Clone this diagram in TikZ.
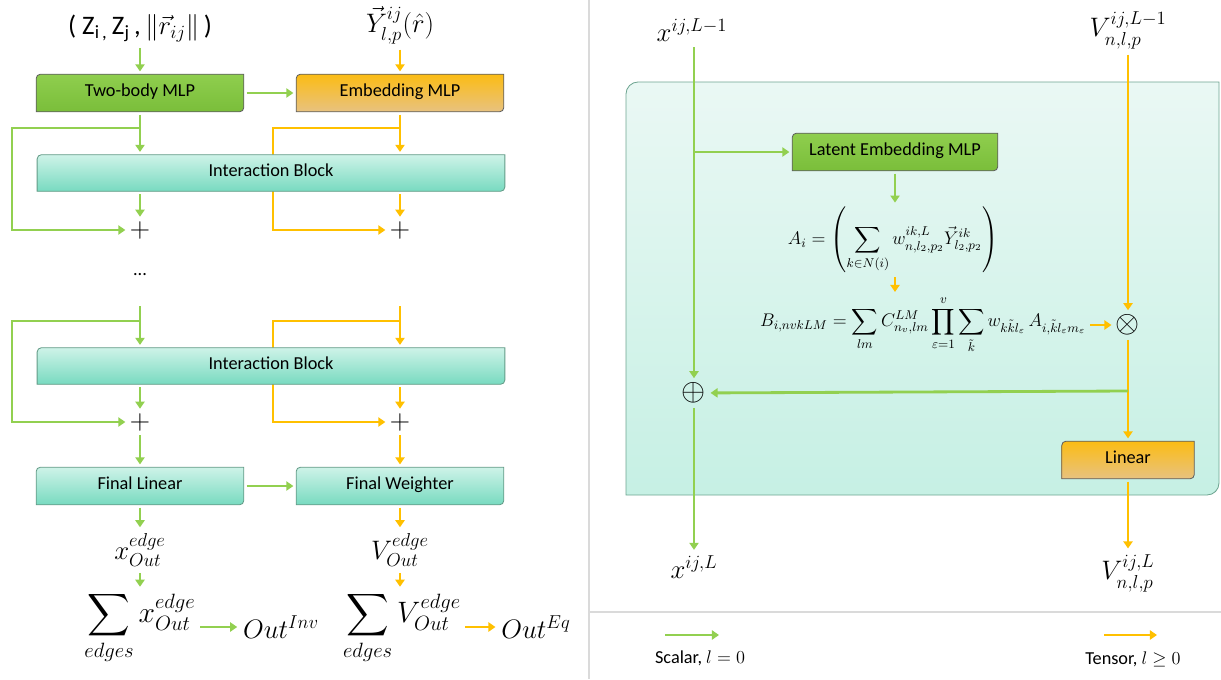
\documentclass[tikz,border=0pt]{standalone}
\usepackage{fix-cm}
\usepackage{fontspec}
\setsansfont{Carlito}
\usepackage{amsmath,amssymb}
\usepackage{tikz}
\usetikzlibrary{arrows.meta}
\usetikzlibrary{positioning}
\usetikzlibrary{calc}
\pgfdeclarelayer{back}
\pgfdeclarelayer{mid}
\pgfsetlayers{back,mid,main}
\definecolor{scalargreen}{RGB}{146,208,80}
\definecolor{tensororange}{RGB}{255,192,0}
\definecolor{mlptop}{RGB}{143,206,78}
\definecolor{mlpbot}{RGB}{122,190,58}
\definecolor{embtop}{RGB}{251,188,20}
\definecolor{embbot}{RGB}{232,194,128}
\definecolor{blocktop}{RGB}{206,243,232}
\definecolor{blockbot}{RGB}{120,218,192}
\definecolor{paneltop}{RGB}{234,248,244}
\definecolor{panelbot}{RGB}{198,240,228}
\definecolor{panelline}{RGB}{110,165,145}
\definecolor{boxline}{RGB}{95,95,95}
\definecolor{blockline}{RGB}{100,155,135}
\definecolor{divider}{RGB}{218,218,218}
\tikzstyle{box}=[inner sep=0pt,minimum height=0.925cm,text height=1.6ex,text depth=0.45ex,font=\sffamily\fontsize{13}{15}\selectfont]
\tikzstyle{bigmath}=[inner sep=2pt,font=\fontsize{19}{23}\selectfont]
\tikzstyle{summath}=[inner sep=1pt,font=\fontsize{21}{25}\selectfont]
\tikzstyle{eqn}=[inner sep=1pt,font=\fontsize{13}{16}\selectfont]
\tikzstyle{plus}=[inner sep=1pt,font=\fontsize{20}{22}\selectfont]
\tikzstyle{opsym}=[inner sep=1pt,font=\fontsize{22}{24}\selectfont]
\tikzstyle{legend}=[inner sep=1pt,font=\sffamily\fontsize{13}{15}\selectfont]
\tikzstyle{gline}=[draw=scalargreen,line width=2pt]
\tikzstyle{oline}=[draw=tensororange,line width=2pt]
\tikzstyle{garrow}=[gline,-{Triangle[length=5pt,width=6.5pt]},shorten >=2pt,shorten <=2pt]
\tikzstyle{oarrow}=[oline,-{Triangle[length=5pt,width=6.5pt]},shorten >=2pt,shorten <=2pt]
\tikzstyle{greenbox}=[top color=mlptop,bottom color=mlpbot,draw=boxline,line width=0.6pt]
\tikzstyle{orangebox}=[top color=embtop,bottom color=embbot,draw=boxline,line width=0.6pt]
\tikzstyle{tealbox}=[top color=blocktop,bottom color=blockbot,draw=blockline,line width=0.6pt]
% box outline with round top-left and bottom-right corners
\newcommand{\diagshape}[2]{\shade[#2] (#1.west) [rounded corners=3pt] -- (#1.north west) -- (#1.north) [sharp corners] -- (#1.north east) -- (#1.east) [rounded corners=3pt] -- (#1.south east) -- (#1.south) [sharp corners] -- (#1.south west) -- cycle;}

\begin{document}
\begin{tikzpicture}[x=0.025cm,y=-0.025cm]
\useasboundingbox (0,0) rectangle (1221,679);
\draw[divider,line width=1pt] (589,0) -- (589,679);
\draw[divider,line width=1pt] (589,612) -- (1221,612);

% left part
\node[bigmath] (inZ) at (140,28) {\sffamily ( Z\textsubscript{i\,,}\,Z\textsubscript{j}\,,\,$\|\vec{r}_{ij}\|$\,)};
\node[bigmath] (inY) at (400,25) {$\vec{Y}^{ij}_{l,p}(\hat{r})$};
\node[box,minimum width=5.175cm] (twobody) at (140,93) {Two-body MLP};
\node[box,minimum width=5.175cm] (embed) at (400,93) {Embedding MLP};
\node[box,minimum width=11.675cm,minimum height=0.9cm] (intA) at (271,173) {Interaction Block};
\node[plus] (plusA1) at (140,230) {$+$};
\node[plus] (plusA2) at (400,230) {$+$};
\node[legend] (dots) at (140,275) {...};
\coordinate (topB1) at (140,306);
\coordinate (topB2) at (400,306);
\node[box,minimum width=11.675cm,minimum height=0.9cm] (intB) at (271,366) {Interaction Block};
\node[plus] (plusB1) at (140,422) {$+$};
\node[plus] (plusB2) at (400,422) {$+$};
\node[box,minimum width=5.175cm] (finlin) at (140,486) {Final Linear};
\node[box,minimum width=5.175cm] (finwt) at (400,486) {Final Weighter};
\node[bigmath] (xout) at (140,550) {$x^{edge}_{Out}$};
\node[bigmath] (vout) at (400,550) {$V^{edge}_{Out}$};
\node[summath] (sumx) at (140,628) {$\displaystyle\sum_{edges} x^{edge}_{Out}$};
\node[bigmath] (outinv) at (281,627) {$Out^{Inv}$};
\node[summath] (sumv) at (402,628) {$\displaystyle\sum_{edges} V^{edge}_{Out}$};
\node[bigmath] (outeq) at (536,627) {$Out^{Eq}$};

\draw[garrow] (inZ) -- (twobody);
\draw[oarrow] (inY) -- (embed);
\draw[garrow] (twobody) -- (embed);
\draw[garrow] (twobody) -- (intA.north -| twobody);
\draw[oarrow] (embed) -- (intA.north -| embed);
\draw[garrow] (intA.south -| plusA1) -- (plusA1);
\draw[oarrow] (intA.south -| plusA2) -- (plusA2);
\coordinate (brA1) at (140,128);
\coordinate (skA1) at (12,230);
\coordinate (brA2) at (400,128);
\coordinate (skA2) at (273,230);
\draw[garrow,shorten <=0pt] (brA1) -| (skA1) -- (plusA1);
\draw[garrow,shorten <=0pt] (topB1) -- (intB.north -| topB1);
\draw[oarrow,shorten <=0pt] (topB2) -- (intB.north -| topB2);
\draw[garrow] (intB.south -| plusB1) -- (plusB1);
\draw[oarrow] (intB.south -| plusB2) -- (plusB2);
\coordinate (brB1) at (140,321);
\coordinate (skB1) at (12,422);
\coordinate (brB2) at (400,321);
\coordinate (skB2) at (273,422);
\draw[garrow,shorten <=0pt] (brB1) -| (skB1) -- (plusB1);
\draw[garrow] (plusB1) -- (finlin);
\draw[oarrow] (plusB2) -- (finwt);
\draw[garrow] (finlin) -- (finwt);
\draw[garrow] (finlin) -- (xout);
\draw[oarrow] (finwt) -- (vout);
\draw[garrow] (xout) -- (xout.south |- sumx.north);
\draw[oarrow] (vout) -- (vout.south |- sumv.north);
\draw[garrow] (sumx.east |- outinv) -- (outinv);
\draw[oarrow] (sumv.east |- outeq) -- (outeq);

% right part
\node[bigmath] (xin) at (692,30) {$x^{ij,L-1}$};
\node[bigmath] (vin) at (1128,30) {$V^{ij,L-1}_{n,l,p}$};
\node[box,minimum width=5.125cm] (latent) at (895,152) {Latent Embedding MLP};
\node[eqn] (ai) at (893,240) {$\displaystyle A_i = \left(\sum_{k\in N(i)} w^{ik,L}_{n,l_2,p_2}\vec{Y}^{ik}_{l_2,p_2}\right)$};
\node[eqn] (bi) at (923,325) {$\displaystyle B_{i,nvkLM} = \sum_{lm} C^{LM}_{n_v,lm} \prod_{\varepsilon=1}^{v} \sum_{\tilde{k}} w_{k\tilde{k}l_\varepsilon}\, A_{i,\tilde{k}l_\varepsilon m_\varepsilon}$};
\node[opsym] (otimes) at (1128,325) {$\otimes$};
\node[opsym] (oplus) at (694,393) {$\oplus$};
\node[box,minimum width=3.3cm] (linear) at (1128,460) {Linear};
\node[bigmath] (xout2) at (694,567) {$x^{ij,L}$};
\node[bigmath] (vout2) at (1128,573) {$V^{ij,L}_{n,l,p}$};
\coordinate (brL) at (694,152);
\coordinate (brR) at (1128,391);

\draw[garrow] (xin.south -| oplus) -- (oplus);
\draw[garrow,shorten <=0pt] (brL) -- (latent);
\draw[garrow] (latent) -- (latent.south |- ai.north);
\draw[oarrow] (ai.south -| latent) -- (bi.north -| latent);
\draw[oarrow] (bi) -- (otimes);
\draw[oarrow] (vin) -- (otimes);
\draw[oarrow] (otimes) -- (linear);
\draw[garrow,shorten <=0pt] (brR) -- (oplus);
\draw[garrow] (oplus) -- (xout2);
\draw[oarrow] (linear) -- (vout2);

% legend
\coordinate (lgA) at (665,635);
\coordinate (lgB) at (719,635);
\coordinate (lgC) at (1104,635);
\coordinate (lgD) at (1157,635);
\draw[garrow,shorten <=0pt,shorten >=0pt] (lgA) -- (lgB);
\draw[oarrow,shorten <=0pt,shorten >=0pt] (lgC) -- (lgD);
\node[legend] (scal) at (700,658) {Scalar, $l = 0$};
\node[legend] (tens) at (1133,659) {Tensor, $l \geq 0$};

\begin{pgfonlayer}{back}
\shade[top color=paneltop,bottom color=panelbot,draw=panelline,line width=0.6pt] (626,300) [rounded corners=0.3cm] -- (626,82) -- (900,82) [sharp corners] -- (1219,82) -- (1219,300) [rounded corners=0.3cm] -- (1219,495) -- (900,495) [sharp corners] -- (626,495) -- cycle;
\draw[oarrow,shorten <=0pt] (brA2) -| (skA2) -- (plusA2);
\draw[oarrow,shorten <=0pt] (brB2) -| (skB2) -- (plusB2);
\end{pgfonlayer}
\begin{pgfonlayer}{mid}
\foreach \n in {twobody,latent} {\diagshape{\n}{greenbox}}
\foreach \n in {embed,linear} {\diagshape{\n}{orangebox}}
\foreach \n in {intA,intB,finlin,finwt} {\diagshape{\n}{tealbox}}
\end{pgfonlayer}
\end{tikzpicture}
\end{document}
